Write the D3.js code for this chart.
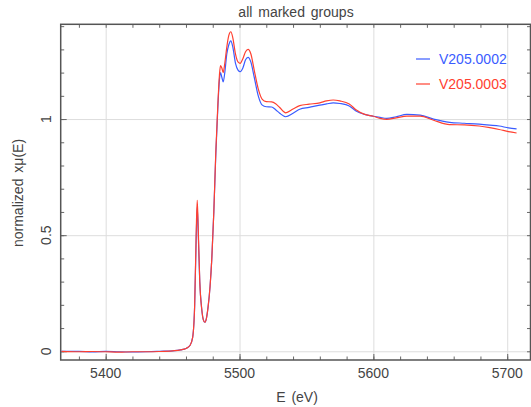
<!DOCTYPE html>
<html>
<head>
<meta charset="utf-8">
<script src="https://cdn.jsdelivr.net/npm/d3@7"></script>
<style>
  body { margin: 0; background: #fff; }
  text { font-family: "Liberation Sans", Arial, sans-serif; fill: #444; }
</style>
</head>
<body>
<svg class="chart"></svg>
<script>
// energies (eV), shared by both scans
var energy = [5367, 5380, 5390, 5400, 5410, 5420, 5430, 5440, 5450, 5456, 5460, 5463, 5465,
    5466.5, 5467.6, 5468.4, 5469.2, 5470.3, 5471.8, 5473, 5474, 5475.2, 5476.5, 5478, 5479.3,
    5480.8, 5482.3, 5483.8, 5485, 5485.8, 5486.8, 5487.8, 5489, 5490.5, 5492, 5493.5, 5495,
    5497, 5499, 5500.5, 5502.5, 5504.5, 5506.4, 5508.5, 5511, 5514, 5517, 5520, 5524, 5527,
    5530, 5534.5, 5540, 5545, 5552, 5560, 5565, 5570, 5575, 5582, 5587, 5593.5, 5600, 5605,
    5610, 5617, 5625, 5635, 5645, 5657, 5668, 5679, 5687, 5694, 5701, 5707];

var scan0002 = [0, 0, -0.003, 0, -0.002, -0.003, -0.002, 0, 0.002, 0.006, 0.012, 0.025, 0.06,
    0.2, 0.48, 0.62, 0.5, 0.3, 0.18, 0.135, 0.125, 0.14, 0.19, 0.28, 0.4,
    0.6, 0.85, 1.05, 1.17, 1.2, 1.18, 1.16, 1.2, 1.28, 1.32, 1.337, 1.31,
    1.24, 1.21, 1.204, 1.22, 1.255, 1.266, 1.245, 1.18, 1.1, 1.06, 1.053, 1.052, 1.04,
    1.025, 1.01, 1.025, 1.042, 1.05, 1.06, 1.065, 1.07, 1.067, 1.056, 1.035, 1.02, 1.012, 1.007,
    1.003, 1.01, 1.02, 1.017, 1.0, 0.986, 0.982, 0.978, 0.974, 0.97, 0.962, 0.958];

var scan0003 = [0, -0.002, -0.001, -0.002, -0.004, -0.002, -0.002, -0.001, 0.002, 0.006, 0.012, 0.025, 0.06,
    0.2, 0.5, 0.65, 0.52, 0.3, 0.18, 0.135, 0.125, 0.14, 0.19, 0.28, 0.4,
    0.6, 0.86, 1.06, 1.19, 1.23, 1.22, 1.2, 1.24, 1.31, 1.36, 1.376, 1.35,
    1.28, 1.245, 1.24, 1.26, 1.29, 1.3, 1.28, 1.21, 1.13, 1.085, 1.075, 1.074, 1.066,
    1.05, 1.027, 1.043, 1.058, 1.064, 1.07, 1.078, 1.082, 1.078, 1.065, 1.04, 1.02, 1.012, 1.003,
    0.999, 1.005, 1.013, 1.013, 0.995, 0.976, 0.975, 0.97, 0.963, 0.955, 0.946, 0.94];

var seriesNames = ["V205.0002", "V205.0003"];
var seriesColors = ["#3a5cff", "#ff4030"];

var xTicks = [5400, 5500, 5600, 5700];
var yTicks = [0, 0.5, 1];

var width = 531, height = 407;
var x0 = 60.7, x1 = 530.5, y0 = 24.3, y1 = 360;

var svg = d3.select(".chart")
    .attr("width", width)
    .attr("height", height);

var x = d3.scaleLinear()
    .domain([5366.4, 5717.4])
    .range([x0, x1]);

var y = d3.scaleLinear()
    .domain([-0.0375, 1.408])
    .range([y1, y0]);

var xMinor = d3.range(5380, 5717, 20);
var yMinor = d3.range(0, 1.41, 0.1);

// grid
svg.append("g")
    .attr("transform", "translate(0," + y1 + ")")
    .call(d3.axisBottom(x).tickValues(xTicks).tickSize(-(y1 - y0)).tickFormat(""))
    .call(function (g) { g.select(".domain").remove(); })
    .selectAll("line").attr("stroke", "#ddd");

svg.append("g")
    .attr("transform", "translate(" + x0 + ",0)")
    .call(d3.axisLeft(y).tickValues(yTicks).tickSize(-(x1 - x0)).tickFormat(""))
    .call(function (g) { g.select(".domain").remove(); })
    .selectAll("line").attr("stroke", "#ddd");

// inward ticks on all four sides
function ticks(axis, tx) {
    svg.append("g")
        .attr("transform", tx)
        .call(axis.tickFormat(""))
        .call(function (g) { g.select(".domain").remove(); })
        .selectAll("line").attr("stroke", "#666");
}
ticks(d3.axisBottom(x).tickValues(xMinor).tickSize(-3.5), "translate(0," + y1 + ")");
ticks(d3.axisBottom(x).tickValues(xTicks).tickSize(-6), "translate(0," + y1 + ")");
ticks(d3.axisTop(x).tickValues(xMinor).tickSize(-3.5), "translate(0," + y0 + ")");
ticks(d3.axisLeft(y).tickValues(yMinor).tickSize(-3.5), "translate(" + x0 + ",0)");
ticks(d3.axisLeft(y).tickValues(yTicks).tickSize(-6), "translate(" + x0 + ",0)");
ticks(d3.axisRight(y).tickValues(yMinor).tickSize(-3.5), "translate(" + x1 + ",0)");

// frame
svg.append("rect")
    .attr("x", x0)
    .attr("y", y0)
    .attr("width", x1 - x0)
    .attr("height", y1 - y0)
    .attr("fill", "none")
    .attr("stroke", "#555")
    .attr("stroke-width", 1.5);

// tick labels
svg.selectAll(".xlab")
    .data(xTicks)
    .enter().append("text")
    .attr("class", "xlab")
    .attr("x", function (d) { return x(d); })
    .attr("y", 378)
    .attr("text-anchor", "middle")
    .style("font-size", "14px")
    .text(function (d) { return d; });

svg.selectAll(".ylab")
    .data(yTicks)
    .enter().append("text")
    .attr("class", "ylab")
    .attr("transform", function (d) { return "translate(51," + y(d) + ") rotate(-90)"; })
    .attr("text-anchor", "middle")
    .style("font-size", "14px")
    .text(function (d) { return d; });

// titles
svg.append("text")
    .attr("x", 296)
    .attr("y", 17)
    .attr("text-anchor", "middle")
    .style("font-size", "14px")
    .style("word-spacing", "2px")
    .text("all marked groups");

svg.append("text")
    .attr("x", 297)
    .attr("y", 402)
    .attr("text-anchor", "middle")
    .style("font-size", "14px")
    .style("word-spacing", "2px")
    .text("E (eV)");

svg.append("text")
    .attr("transform", "translate(23,193) rotate(-90)")
    .attr("text-anchor", "middle")
    .style("font-size", "14px")
    .style("word-spacing", "2px")
    .text("normalized xμ(E)");

// curves
svg.append("clipPath")
    .attr("id", "plot")
    .append("rect")
    .attr("x", x0).attr("y", y0)
    .attr("width", x1 - x0).attr("height", y1 - y0);

var line = d3.line()
    .x(function (d) { return x(d[0]); })
    .y(function (d) { return y(d[1]); })
    .curve(d3.curveMonotoneX);

[scan0002, scan0003].forEach(function (vals, i) {
    svg.append("path")
        .datum(d3.zip(energy, vals))
        .attr("clip-path", "url(#plot)")
        .attr("fill", "none")
        .attr("stroke", seriesColors[i])
        .attr("stroke-width", 1.2)
        .attr("d", line);
});

// legend
var leg = svg.selectAll(".leg")
    .data(seriesNames)
    .enter().append("g")
    .attr("class", "leg")
    .attr("transform", function (d, i) { return "translate(416," + (59 + i * 25) + ")"; });

leg.append("line")
    .attr("x1", 0).attr("x2", 14)
    .attr("stroke", function (d, i) { return seriesColors[i]; })
    .attr("stroke-width", 1.2);

leg.append("text")
    .attr("x", 23)
    .attr("y", 5)
    .style("font-size", "14px")
    .style("fill", function (d, i) { return seriesColors[i]; })
    .text(function (d) { return d; });
</script>
</body>
</html>
